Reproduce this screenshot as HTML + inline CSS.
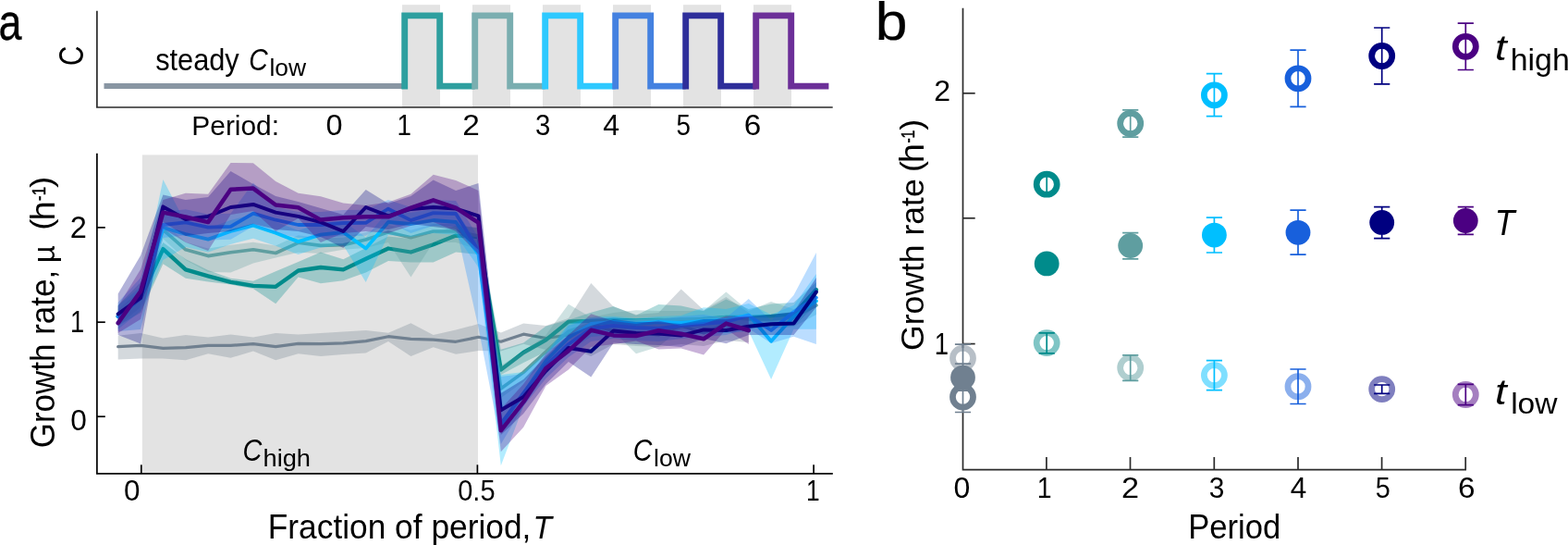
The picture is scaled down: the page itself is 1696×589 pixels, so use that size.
<!DOCTYPE html>
<html lang="en"><head><meta charset="utf-8"><title>Growth rate figure</title>
<style>html,body{margin:0;padding:0;background:#fff;}body{width:1696px;height:589px;overflow:hidden;}svg{display:block;}text{font-family:"Liberation Sans",sans-serif;fill:#000;}.i{font-style:italic;}</style>
</head><body>
<svg width="1696" height="589" viewBox="0 0 1696 589">
<rect width="1696" height="589" fill="#fff"/>
<g id="top">
<rect x="435.0" y="5.2" width="41" height="110.8" fill="#e3e3e3"/>
<rect x="511.0" y="5.2" width="41" height="110.8" fill="#e3e3e3"/>
<rect x="587.0" y="5.2" width="41" height="110.8" fill="#e3e3e3"/>
<rect x="663.0" y="5.2" width="41" height="110.8" fill="#e3e3e3"/>
<rect x="739.0" y="5.2" width="41" height="110.8" fill="#e3e3e3"/>
<rect x="815.0" y="5.2" width="41" height="110.8" fill="#e3e3e3"/>
<path d="M104.9 11.8V116H900.7" fill="none" stroke="#2b2b2b" stroke-width="1.7"/>
<path d="M112.5 93H437.7" fill="none" stroke="#8996a3" stroke-width="6.2"/>
<path d="M437.7 96.5V16.85H475.7V93.1H513.7" fill="none" stroke="#2e9f9f" stroke-width="6.9" stroke-linejoin="miter"/>
<path d="M513.7 96.5V16.85H551.7V93.1H589.7" fill="none" stroke="#7aaeb0" stroke-width="6.9" stroke-linejoin="miter"/>
<path d="M589.7 96.5V16.85H627.7V93.1H665.7" fill="none" stroke="#2ec9ff" stroke-width="6.9" stroke-linejoin="miter"/>
<path d="M665.7 96.5V16.85H703.7V93.1H741.7" fill="none" stroke="#4481e0" stroke-width="6.9" stroke-linejoin="miter"/>
<path d="M741.7 96.5V16.85H779.7V93.1H817.7" fill="none" stroke="#2e2e9a" stroke-width="6.9" stroke-linejoin="miter"/>
<path d="M817.7 96.5V16.85H855.7V93.1H896.4" fill="none" stroke="#6c2f98" stroke-width="6.9" stroke-linejoin="miter"/>
</g>
<g id="main">
<rect x="153.8" y="167.4" width="363.2" height="344.4" fill="#e3e3e3"/>
<polygon points="127.7,362.8 152.1,360.0 176.4,365.5 200.8,362.0 225.1,364.6 249.5,361.4 273.9,364.6 298.2,360.0 322.6,361.5 346.9,360.0 371.3,358.4 395.7,357.0 420.0,359.8 444.4,349.2 468.7,361.9 493.1,356.6 517.5,350.1 541.8,359.4 566.2,349.5 590.5,352.0 614.9,343.9 639.3,305.9 663.6,331.5 688.0,340.0 712.3,338.0 736.7,312.6 761.1,335.0 785.4,321.1 809.8,338.0 809.8,370.0 785.4,368.0 761.1,374.0 736.7,372.0 712.3,375.0 688.0,374.0 663.6,372.0 639.3,385.0 614.9,375.0 590.5,378.0 566.2,371.7 541.8,379.5 517.5,379.1 493.1,382.8 468.7,375.2 444.4,384.9 420.0,369.0 395.7,381.4 371.3,383.0 346.9,385.0 322.6,382.3 298.2,389.3 273.9,379.6 249.5,386.7 225.1,382.3 200.8,389.3 176.4,387.5 152.1,387.5 127.7,388.4" fill="#708090" fill-opacity="0.3"/>
<polyline points="127.7,374.6 152.1,373.4 176.4,376.4 200.8,375.7 225.1,373.4 249.5,373.4 273.9,371.6 298.2,374.6 322.6,371.3 346.9,371.6 371.3,370.8 395.7,368.6 420.0,363.7 444.4,366.3 468.7,367.2 493.1,369.3 517.5,364.3 541.8,369.2 566.2,361.2 590.5,365.5 614.9,362.0 639.3,350.0 663.6,358.0 688.0,360.0 712.3,362.0 736.7,352.0 761.1,360.0 785.4,350.0 809.8,358.0" fill="none" stroke="#708090" stroke-width="3.2" stroke-linejoin="round" stroke-linecap="round" stroke-opacity="1"/>
<polygon points="127.7,330.0 152.1,305.0 176.4,262.0 200.8,280.0 225.1,292.0 249.5,300.7 273.9,303.8 298.2,293.3 322.6,283.0 346.9,272.5 371.3,280.3 395.7,268.0 420.0,255.5 444.4,258.0 468.7,252.0 493.1,244.0 517.5,246.0 541.8,377.7 566.2,370.6 590.5,352.6 614.9,345.8 639.3,337.7 663.6,330.9 688.0,340.8 712.3,329.1 736.7,330.4 761.1,336.0 785.4,323.6 809.8,334.0 834.1,328.5 858.5,327.0 882.9,305.0 882.9,330.0 858.5,352.0 834.1,354.0 809.8,354.0 785.4,354.0 761.1,355.0 736.7,356.0 712.3,356.0 688.0,356.0 663.6,356.0 639.3,358.0 614.9,362.0 590.5,380.0 566.2,392.0 541.8,405.0 517.5,275.0 493.1,272.5 468.7,283.4 444.4,283.4 420.0,282.1 395.7,294.5 371.3,303.2 346.9,306.3 322.6,299.5 298.2,328.3 273.9,312.0 249.5,307.6 225.1,304.5 200.8,300.7 176.4,285.2 152.1,338.0 127.7,352.0" fill="#008b8b" fill-opacity="0.3"/>
<polyline points="127.7,342.0 152.1,322.0 176.4,269.1 200.8,291.4 225.1,298.4 249.5,304.8 273.9,308.8 298.2,309.8 322.6,292.5 346.9,289.0 371.3,291.4 395.7,279.7 420.0,268.5 444.4,272.5 468.7,264.2 493.1,254.6 517.5,256.0 541.8,399.6 566.2,381.0 590.5,367.4 614.9,347.7 639.3,346.8 663.6,346.0 688.0,346.5 712.3,346.0 736.7,346.5 761.1,345.0 785.4,343.0 809.8,343.0 834.1,342.0 858.5,340.0 882.9,313.0" fill="none" stroke="#008b8b" stroke-width="4.3" stroke-linejoin="round" stroke-linecap="round" stroke-opacity="1"/>
<polygon points="127.7,334.0 152.1,314.0 176.4,240.3 200.8,261.8 225.1,268.6 249.5,264.8 273.9,261.8 298.2,265.5 322.6,254.3 346.9,257.4 371.3,256.8 395.7,251.0 420.0,242.9 444.4,248.7 468.7,242.0 493.1,242.0 517.5,247.0 541.8,395.0 566.2,380.0 590.5,362.0 614.9,328.8 639.3,343.0 663.6,338.0 688.0,335.2 712.3,336.0 736.7,336.0 761.1,336.0 785.4,315.5 809.8,336.0 834.1,326.0 858.5,334.0 882.9,320.0 882.9,340.0 858.5,353.0 834.1,355.0 809.8,355.0 785.4,353.0 761.1,355.0 736.7,355.0 712.3,374.8 688.0,382.2 663.6,358.0 639.3,360.0 614.9,368.0 590.5,390.0 566.2,412.4 541.8,430.0 517.5,270.0 493.1,262.0 468.7,262.0 444.4,299.5 420.0,262.0 395.7,268.0 371.3,269.8 346.9,274.0 322.6,272.8 298.2,278.4 273.9,284.6 249.5,294.5 225.1,293.9 200.8,280.9 176.4,258.0 152.1,332.0 127.7,352.0" fill="#5f9ea0" fill-opacity="0.3"/>
<polyline points="127.7,342.0 152.1,322.0 176.4,248.3 200.8,269.8 225.1,276.6 249.5,272.8 273.9,269.8 298.2,273.5 322.6,262.3 346.9,265.4 371.3,264.8 395.7,259.0 420.0,250.9 444.4,256.7 468.7,250.0 493.1,250.0 517.5,255.0 541.8,420.0 566.2,402.4 590.5,380.0 614.9,358.0 639.3,350.0 663.6,348.0 688.0,347.0 712.3,346.0 736.7,345.0 761.1,345.0 785.4,343.0 809.8,345.0 834.1,345.0 858.5,343.0 882.9,330.0" fill="none" stroke="#5f9ea0" stroke-width="3.6" stroke-linejoin="round" stroke-linecap="round" stroke-opacity="1"/>
<polygon points="127.7,330.0 152.1,310.0 176.4,193.9 200.8,241.0 225.1,246.6 249.5,238.0 273.9,231.7 298.2,239.8 322.6,249.1 346.9,241.6 371.3,239.0 395.7,256.5 420.0,228.0 444.4,230.0 468.7,226.0 493.1,228.0 517.5,263.0 541.8,405.0 566.2,402.0 590.5,381.0 614.9,350.0 639.3,342.7 663.6,341.7 688.0,344.0 712.3,342.0 736.7,341.0 761.1,332.2 785.4,334.0 809.8,328.0 834.1,340.0 858.5,330.0 882.9,296.0 882.9,355.8 858.5,355.8 834.1,410.0 809.8,358.0 785.4,360.0 761.1,361.0 736.7,363.0 712.3,362.0 688.0,364.0 663.6,362.0 639.3,364.0 614.9,379.0 590.5,404.0 566.2,439.0 541.8,503.3 517.5,289.0 493.1,254.0 468.7,252.0 444.4,256.0 420.0,254.0 395.7,305.1 371.3,265.0 346.9,267.6 322.6,275.1 298.2,265.8 273.9,257.7 249.5,264.0 225.1,272.6 200.8,267.0 176.4,281.0 152.1,336.0 127.7,356.0" fill="#00bfff" fill-opacity="0.3"/>
<polyline points="127.7,342.0 152.1,322.0 176.4,246.0 200.8,253.0 225.1,258.6 249.5,250.0 273.9,243.7 298.2,251.8 322.6,261.1 346.9,253.6 371.3,251.0 395.7,268.5 420.0,240.0 444.4,242.0 468.7,238.0 493.1,240.0 517.5,275.0 541.8,460.0 566.2,425.0 590.5,390.0 614.9,365.0 639.3,350.0 663.6,348.0 688.0,350.0 712.3,348.0 736.7,349.0 761.1,347.0 785.4,346.0 809.8,340.3 834.1,368.8 858.5,342.0 882.9,325.4" fill="none" stroke="#00bfff" stroke-width="3.8" stroke-linejoin="round" stroke-linecap="round" stroke-opacity="1"/>
<polygon points="127.7,327.0 152.1,300.0 176.4,229.0 200.8,226.3 225.1,231.6 249.5,230.8 273.9,197.4 298.2,223.7 322.6,229.0 346.9,229.0 371.3,227.0 395.7,226.8 420.0,216.0 444.4,224.1 468.7,216.1 493.1,217.0 517.5,256.8 541.8,407.0 566.2,404.0 590.5,383.0 614.9,352.0 639.3,344.0 663.6,343.0 688.0,346.0 712.3,345.0 736.7,342.0 761.1,340.0 785.4,343.6 809.8,322.9 834.1,346.5 858.5,318.9 882.9,273.0 882.9,371.9 858.5,363.8 834.1,371.0 809.8,355.0 785.4,362.0 761.1,364.0 736.7,366.0 712.3,369.0 688.0,368.0 663.6,366.0 639.3,369.0 614.9,386.0 590.5,409.0 566.2,439.0 541.8,480.0 517.5,354.0 493.1,245.0 468.7,244.1 444.4,252.1 420.0,239.7 395.7,254.8 371.3,255.0 346.9,257.0 322.6,257.0 298.2,251.7 273.9,244.6 249.5,258.8 225.1,259.6 200.8,254.3 176.4,257.0 152.1,356.0 127.7,358.0" fill="#1e90ff" fill-opacity="0.3"/>
<polyline points="127.7,342.0 152.1,322.0 176.4,243.0 200.8,240.3 225.1,245.6 249.5,244.8 273.9,230.6 298.2,237.7 322.6,243.0 346.9,243.0 371.3,241.0 395.7,240.8 420.0,225.7 444.4,238.1 468.7,230.1 493.1,231.0 517.5,270.8 541.8,458.0 566.2,425.0 590.5,395.0 614.9,372.0 639.3,355.0 663.6,352.0 688.0,354.0 712.3,355.0 736.7,352.0 761.1,350.0 785.4,348.0 809.8,341.0 834.1,357.0 858.5,337.0 882.9,321.7" fill="none" stroke="#1e90ff" stroke-width="3.8" stroke-linejoin="round" stroke-linecap="round" stroke-opacity="1"/>
<polygon points="127.7,317.4 152.1,275.9 176.4,210.4 200.8,216.0 225.1,213.0 249.5,185.0 273.9,199.0 298.2,212.0 322.6,218.0 346.9,225.0 371.3,232.0 395.7,205.0 420.0,220.0 444.4,212.0 468.7,194.6 493.1,206.0 517.5,198.0 541.8,425.0 566.2,410.0 590.5,385.0 614.9,362.0 639.3,352.0 663.6,345.0 688.0,348.0 712.3,348.0 736.7,350.0 761.1,345.0 785.4,345.0 809.8,342.0 834.1,340.0 858.5,337.0 882.9,300.0 882.9,332.0 858.5,362.0 834.1,362.0 809.8,362.0 785.4,371.3 761.1,366.0 736.7,375.0 712.3,373.0 688.0,372.0 663.6,370.5 639.3,407.6 614.9,390.9 590.5,415.0 566.2,447.0 541.8,470.0 517.5,270.0 493.1,248.0 468.7,245.0 444.4,242.0 420.0,248.0 395.7,245.0 371.3,268.0 346.9,256.0 322.6,250.0 298.2,248.0 273.9,242.0 249.5,250.0 225.1,252.0 200.8,255.0 176.4,240.0 152.1,371.6 127.7,362.0" fill="#000080" fill-opacity="0.3"/>
<polyline points="127.7,339.4 152.1,321.8 176.4,223.4 200.8,237.0 225.1,233.9 249.5,224.0 273.9,220.9 298.2,229.6 322.6,233.9 346.9,240.1 371.3,250.0 395.7,224.0 420.0,233.3 444.4,225.9 468.7,224.0 493.1,225.6 517.5,233.3 541.8,443.3 566.2,429.1 590.5,400.8 614.9,376.0 639.3,379.8 663.6,357.4 688.0,359.9 712.3,360.5 736.7,362.6 761.1,356.4 785.4,357.0 809.8,352.7 834.1,350.2 858.5,349.6 882.9,315.5" fill="none" stroke="#000080" stroke-width="4.0" stroke-linejoin="round" stroke-linecap="round" stroke-opacity="1"/>
<polygon points="127.7,331.0 152.1,291.0 176.4,216.0 200.8,208.8 225.1,209.8 249.5,175.9 273.9,176.2 298.2,196.1 322.6,208.8 346.9,212.2 371.3,219.4 395.7,222.1 420.0,218.4 444.4,209.8 468.7,188.7 493.1,194.9 517.5,206.0 541.8,442.0 566.2,415.0 590.5,382.0 614.9,362.0 639.3,339.3 663.6,347.0 688.0,350.0 712.3,346.5 736.7,352.0 761.1,350.0 785.4,341.5 809.8,342.8 809.8,371.9 785.4,356.0 761.1,383.6 736.7,376.5 712.3,377.4 688.0,368.6 663.6,372.0 639.3,375.0 614.9,399.6 590.5,416.9 566.2,461.8 541.8,488.3 517.5,275.0 493.1,250.0 468.7,240.0 444.4,244.0 420.0,252.0 395.7,250.0 371.3,252.0 346.9,262.0 322.6,236.0 298.2,250.0 273.9,228.0 249.5,232.0 225.1,271.0 200.8,262.0 176.4,247.0 152.1,345.0 127.7,360.0" fill="#4b0082" fill-opacity="0.3"/>
<polyline points="127.7,349.1 152.1,314.7 176.4,229.6 200.8,234.5 225.1,240.1 249.5,204.8 273.9,203.6 298.2,221.5 322.6,224.3 346.9,237.6 371.3,235.2 395.7,234.3 420.0,234.3 444.4,224.6 468.7,216.3 493.1,224.6 517.5,240.7 541.8,465.3 566.2,434.4 590.5,398.0 614.9,379.1 639.3,356.8 663.6,362.4 688.0,363.0 712.3,357.2 736.7,360.7 761.1,366.3 785.4,349.6 809.8,357.0" fill="none" stroke="#4b0082" stroke-width="4.5" stroke-linejoin="round" stroke-linecap="round" stroke-opacity="1"/>
<path d="M104.9 165.8V511.8H900.8" fill="none" stroke="#000" stroke-width="1.7"/>
<path d="M104.9 245.9H113.8" stroke="#000" stroke-width="1.7"/>
<path d="M104.9 348.2H113.8" stroke="#000" stroke-width="1.7"/>
<path d="M104.9 450.2H113.8" stroke="#000" stroke-width="1.7"/>
<path d="M152.8 511.8V502.3" stroke="#000" stroke-width="1.7"/>
<path d="M516.4 511.8V502.3" stroke="#000" stroke-width="1.7"/>
<path d="M880.1 511.8V502.3" stroke="#000" stroke-width="1.7"/>
</g>
<g id="pb">
<path d="M1041.5 8.8V507.7H1586" fill="none" stroke="#2b2b2b" stroke-width="1.7"/>
<path d="M1041.5 100.8H1054.7" stroke="#2b2b2b" stroke-width="1.7"/>
<path d="M1041.5 235.8H1054.7" stroke="#2b2b2b" stroke-width="1.7"/>
<path d="M1041.5 371.6H1054.7" stroke="#2b2b2b" stroke-width="1.7"/>
<path d="M1131.9 507.7V494" stroke="#2b2b2b" stroke-width="1.7"/>
<path d="M1222.5 507.7V494" stroke="#2b2b2b" stroke-width="1.7"/>
<path d="M1313.3 507.7V494" stroke="#2b2b2b" stroke-width="1.7"/>
<path d="M1404 507.7V494" stroke="#2b2b2b" stroke-width="1.7"/>
<path d="M1494.6 507.7V494" stroke="#2b2b2b" stroke-width="1.7"/>
<path d="M1585.2 507.7V494" stroke="#2b2b2b" stroke-width="1.7"/>
<circle cx="1041.5" cy="387.1" r="11.05" fill="#fff" stroke="#708090" stroke-width="6.7" stroke-opacity="0.5"/>
<path d="M1041.5 372.1V402M1032.9 372.1H1050.1M1032.9 402H1050.1" stroke="#708090" stroke-width="1.7" fill="none"/>
<circle cx="1041.5" cy="429.0" r="11.05" fill="#fff" stroke="#708090" stroke-width="6.7"/>
<path d="M1041.5 412.5V445.5M1032.9 412.5H1050.1M1032.9 445.5H1050.1" stroke="#708090" stroke-width="1.7" fill="none"/>
<path d="M1041.5 393.1V422.1M1032.9 393.1H1050.1M1032.9 422.1H1050.1" stroke="#708090" stroke-width="1.7" fill="none"/>
<circle cx="1041.5" cy="408.1" r="13.4" fill="#708090"/>
<circle cx="1132.2" cy="199.2" r="11.05" fill="#fff" stroke="#008b8b" stroke-width="6.7"/>
<path d="M1132.2 190V208M1123.6 190H1140.8M1123.6 208H1140.8" stroke="#008b8b" stroke-width="1.7" fill="none"/>
<circle cx="1222.7" cy="133.5" r="11.05" fill="#fff" stroke="#5f9ea0" stroke-width="6.7"/>
<path d="M1222.7 118.9V148.2M1214.1 118.9H1231.3M1214.1 148.2H1231.3" stroke="#5f9ea0" stroke-width="1.7" fill="none"/>
<circle cx="1313.4" cy="102.8" r="11.05" fill="#fff" stroke="#00bfff" stroke-width="6.7"/>
<path d="M1313.4 79.7V125.6M1304.8 79.7H1322.0M1304.8 125.6H1322.0" stroke="#00bfff" stroke-width="1.7" fill="none"/>
<circle cx="1404.0" cy="84.8" r="11.05" fill="#fff" stroke="#1860dc" stroke-width="6.7"/>
<path d="M1404.0 54.2V115.4M1395.4 54.2H1412.6M1395.4 115.4H1412.6" stroke="#1860dc" stroke-width="1.7" fill="none"/>
<circle cx="1494.7" cy="60.5" r="11.05" fill="#fff" stroke="#000080" stroke-width="6.7"/>
<path d="M1494.7 30V90.9M1486.1 30H1503.3M1486.1 90.9H1503.3" stroke="#000080" stroke-width="1.7" fill="none"/>
<circle cx="1585.3" cy="50.3" r="11.05" fill="#fff" stroke="#4b0082" stroke-width="6.7"/>
<path d="M1585.3 25.2V75.5M1576.7 25.2H1593.9M1576.7 75.5H1593.9" stroke="#4b0082" stroke-width="1.7" fill="none"/>
<path d="M1132.2 278V292M1123.6 278H1140.8M1123.6 292H1140.8" stroke="#008b8b" stroke-width="1.7" fill="none"/>
<circle cx="1132.2" cy="284.9" r="13.4" fill="#008b8b"/>
<path d="M1222.7 251.7V279.8M1214.1 251.7H1231.3M1214.1 279.8H1231.3" stroke="#5f9ea0" stroke-width="1.7" fill="none"/>
<circle cx="1222.7" cy="265.5" r="13.4" fill="#5f9ea0"/>
<path d="M1313.4 235.1V273M1304.8 235.1H1322.0M1304.8 273H1322.0" stroke="#00bfff" stroke-width="1.7" fill="none"/>
<circle cx="1313.4" cy="254.1" r="13.4" fill="#00bfff"/>
<path d="M1404.0 227.2V275.2M1395.4 227.2H1412.6M1395.4 275.2H1412.6" stroke="#1860dc" stroke-width="1.7" fill="none"/>
<circle cx="1404.0" cy="251.3" r="13.4" fill="#1860dc"/>
<path d="M1494.7 223.6V257.7M1486.1 223.6H1503.3M1486.1 257.7H1503.3" stroke="#000080" stroke-width="1.7" fill="none"/>
<circle cx="1494.7" cy="240.4" r="13.4" fill="#000080"/>
<path d="M1585.3 223.7V253.4M1576.7 223.7H1593.9M1576.7 253.4H1593.9" stroke="#4b0082" stroke-width="1.7" fill="none"/>
<circle cx="1585.3" cy="238.5" r="13.4" fill="#4b0082"/>
<circle cx="1132.2" cy="370.6" r="11.05" fill="#fff" stroke="#008b8b" stroke-width="6.7" stroke-opacity="0.5"/>
<path d="M1132.2 359.8V381.8M1123.6 359.8H1140.8M1123.6 381.8H1140.8" stroke="#008b8b" stroke-width="1.7" fill="none"/>
<circle cx="1222.7" cy="397.5" r="11.05" fill="#fff" stroke="#5f9ea0" stroke-width="6.7" stroke-opacity="0.5"/>
<path d="M1222.7 383.8V411.3M1214.1 383.8H1231.3M1214.1 411.3H1231.3" stroke="#5f9ea0" stroke-width="1.7" fill="none"/>
<circle cx="1313.4" cy="405.6" r="11.05" fill="#fff" stroke="#00bfff" stroke-width="6.7" stroke-opacity="0.5"/>
<path d="M1313.4 389.7V421.6M1304.8 389.7H1322.0M1304.8 421.6H1322.0" stroke="#00bfff" stroke-width="1.7" fill="none"/>
<circle cx="1404.0" cy="417.7" r="11.05" fill="#fff" stroke="#1860dc" stroke-width="6.7" stroke-opacity="0.5"/>
<path d="M1404.0 399V436.5M1395.4 399H1412.6M1395.4 436.5H1412.6" stroke="#1860dc" stroke-width="1.7" fill="none"/>
<circle cx="1494.7" cy="420.6" r="11.05" fill="#fff" stroke="#000080" stroke-width="6.7" stroke-opacity="0.5"/>
<path d="M1494.7 416V425.3M1486.1 416H1503.3M1486.1 425.3H1503.3" stroke="#000080" stroke-width="1.7" fill="none"/>
<circle cx="1585.3" cy="426.5" r="11.05" fill="#fff" stroke="#4b0082" stroke-width="6.7" stroke-opacity="0.5"/>
<path d="M1585.3 415.4V437.6M1576.7 415.4H1593.9M1576.7 437.6H1593.9" stroke="#4b0082" stroke-width="1.7" fill="none"/>
</g>
<g id="labels">
<text transform="translate(-1.61 43.45) scale(0.8105 1)" font-size="55.34" stroke="#000" stroke-width="0.4">a</text>
<text transform="translate(946.64 43.02) scale(1.0774 1)" font-size="57.96" stroke="#000" stroke-width="0.25">b</text>
<text transform="translate(90.44 70.88) rotate(-90) scale(0.8182 1)" font-size="36.18">C</text>
<text transform="translate(168.15 75.68) scale(0.9219 1)" font-size="33.35">steady</text>
<text transform="translate(269.34 75.57) scale(0.8587 1)" font-size="33.07" class="i">C</text>
<text transform="translate(291.42 81.64) scale(1.0326 1)" font-size="25.58">low</text>
<text transform="translate(207.33 145.50) scale(0.9860 1)" font-size="30.34">Period:</text>
<text transform="translate(352.40 146.08) scale(1.0162 1)" font-size="31.94">0</text>
<text transform="translate(429.62 146.08) scale(0.8686 1)" font-size="31.94">1</text>
<text transform="translate(500.13 146.08) scale(1.0458 1)" font-size="31.94">2</text>
<text transform="translate(579.09 146.08) scale(0.9227 1)" font-size="31.94">3</text>
<text transform="translate(652.18 146.08) scale(1.0042 1)" font-size="31.94">4</text>
<text transform="translate(731.49 146.08) scale(0.8700 1)" font-size="31.94">5</text>
<text transform="translate(804.74 146.08) scale(1.0424 1)" font-size="31.94">6</text>
<text transform="translate(58.64 484.35) rotate(-90) scale(0.9679 1)" font-size="36.18">Growth rate,</text>
<text transform="translate(58.94 284.33) rotate(-90) scale(0.9699 1)" font-size="34.01">µ</text>
<text transform="translate(56.36 248.81) rotate(-90) scale(1.1381 1)" font-size="32.49">(</text>
<text transform="translate(58.90 238.47) rotate(-90) scale(1.0309 1)" font-size="36.97">h</text>
<text transform="translate(48.50 216.96) rotate(-90) scale(0.8648 1)" font-size="19.49" stroke="#000" stroke-width="0.5">-1</text>
<text transform="translate(56.36 203.08) rotate(-90) scale(1.1381 1)" font-size="32.49">)</text>
<text transform="translate(75.77 256.60) scale(1.0039 1)" font-size="32.40">2</text>
<text transform="translate(76.05 359.00) scale(0.8411 1)" font-size="32.44">1</text>
<text transform="translate(76.14 465.18) scale(0.9900 1)" font-size="31.94">0</text>
<text transform="translate(134.04 540.89) scale(1.0195 1)" font-size="30.81">0</text>
<text transform="translate(495.24 540.89) scale(0.9414 1)" font-size="30.81">0.5</text>
<text transform="translate(871.92 541.00) scale(0.8275 1)" font-size="31.85">1</text>
<text transform="translate(289.79 581.83) scale(0.9648 1)" font-size="36.60">Fraction of period,</text>
<text transform="translate(576.59 581.90) scale(0.9463 1)" font-size="35.35" class="i">T</text>
<text transform="translate(262.41 497.67) scale(0.8722 1)" font-size="33.07" class="i">C</text>
<text transform="translate(284.49 503.95) scale(1.0373 1)" font-size="26.27">high</text>
<text transform="translate(684.73 497.67) scale(0.8632 1)" font-size="33.07" class="i">C</text>
<text transform="translate(707.00 503.64) scale(1.0298 1)" font-size="25.85">low</text>
<text transform="translate(998.74 378.88) rotate(-90) scale(0.9977 1)" font-size="35.62">Growth rate</text>
<text transform="translate(996.82 186.04) rotate(-90) scale(1.0819 1)" font-size="33.14">(</text>
<text transform="translate(999.00 176.17) rotate(-90) scale(1.0270 1)" font-size="37.10">h</text>
<text transform="translate(988.50 154.61) rotate(-90) scale(0.8067 1)" font-size="19.49" stroke="#000" stroke-width="0.5">-1</text>
<text transform="translate(996.82 140.77) rotate(-90) scale(1.0819 1)" font-size="33.14">)</text>
<text transform="translate(1010.30 109.00) scale(1.0036 1)" font-size="31.97">2</text>
<text transform="translate(1010.64 382.50) scale(0.8483 1)" font-size="32.44">1</text>
<text transform="translate(1031.42 537.99) scale(1.0399 1)" font-size="30.81">0</text>
<text transform="translate(1121.87 537.99) scale(0.9230 1)" font-size="30.81">1</text>
<text transform="translate(1212.89 537.99) scale(1.1127 1)" font-size="30.81">2</text>
<text transform="translate(1307.68 537.99) scale(0.9702 1)" font-size="30.81">3</text>
<text transform="translate(1395.69 537.99) scale(1.0218 1)" font-size="30.81">4</text>
<text transform="translate(1487.75 537.99) scale(0.9360 1)" font-size="30.81">5</text>
<text transform="translate(1576.94 537.99) scale(1.0806 1)" font-size="30.81">6</text>
<text transform="translate(1285.14 581.54) scale(0.9609 1)" font-size="36.05">Period</text>
<text transform="translate(1617.05 64.81) scale(1.1669 1)" font-size="39.08" class="i">t</text>
<text transform="translate(1633.73 75.61) scale(1.0351 1)" font-size="32.71">high</text>
<text transform="translate(1616.80 253.70) scale(0.8944 1)" font-size="39.71" class="i">T</text>
<text transform="translate(1617.05 436.81) scale(1.1807 1)" font-size="38.63" class="i">t</text>
<text transform="translate(1634.13 447.38) scale(1.0461 1)" font-size="32.11">low</text>
</g>
</svg>
</body></html>
